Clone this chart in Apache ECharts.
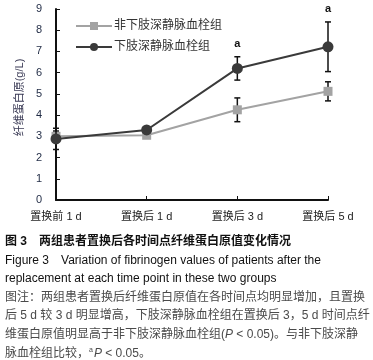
<!DOCTYPE html>
<html><head><meta charset="utf-8">
<script src="https://cdn.jsdelivr.net/npm/echarts@6/dist/echarts.min.js"></script>
<style>html,body{margin:0;padding:0;background:#fff}#c{width:373px;height:360px}</style>
</head><body><div id="c"></div>
<script>
const categories = ['置换前 1 d', '置换后 1 d', '置换后 3 d', '置换后 5 d'];
const nonDvtName = '非下肢深静脉血栓组';
const dvtName = '下肢深静脉血栓组';
const nonDvt = [3.0, 3.05, 4.25, 5.12];
const nonDvtSd = [0.25, 0.1, 0.56, 0.45];
const dvt = [2.88, 3.3, 6.2, 7.22];
const dvtSd = [0.5, 0.1, 0.55, 1.17];
const dvtMark = ['', '', 'a', 'a'];
const yTicks = [0, 1, 2, 3, 4, 5, 6, 7, 8, 9];

const F = '"Liberation Sans","Noto Sans CJK SC",sans-serif';
const chart = echarts.init(document.getElementById('c'));

function errSeries(vals, sds, marks, z) {
  return {
    type: 'custom', z: z, silent: true,
    data: vals.map((v, i) => [i, v, sds[i], marks ? marks[i] : '']),
    renderItem: function (params, api) {
      const x = api.value(0), v = api.value(1), s = api.value(2);
      const top = api.coord([x, v + s]);
      const bot = api.coord([x, v - s]);
      const w = 3;
      const ch = [
        {type: 'line', shape: {x1: top[0], y1: top[1], x2: bot[0], y2: bot[1]}, style: {stroke: '#111', lineWidth: 1.5}},
        {type: 'line', shape: {x1: top[0] - w, y1: top[1], x2: top[0] + w, y2: top[1]}, style: {stroke: '#111', lineWidth: 1.5}},
        {type: 'line', shape: {x1: bot[0] - w, y1: bot[1], x2: bot[0] + w, y2: bot[1]}, style: {stroke: '#111', lineWidth: 1.5}}
      ];
      const m = api.value(3);
      if (m) ch.push({type: 'text', style: {text: m, x: top[0], y: top[1] - 7, align: 'center', verticalAlign: 'bottom', font: 'bold 11px ' + F, fill: '#111'}});
      return {type: 'group', children: ch};
    }
  };
}

const capY = 243, lh = 18.5;
const noteFill = '#4a4a4a';
const lines = [
  {text: '图 3　两组患者置换后各时间点纤维蛋白原值变化情况', fill: '#111', bold: true},
  {text: 'Figure 3　Variation of fibrinogen values of patients after the', fill: '#111'},
  {text: 'replacement at each time point in these two groups', fill: '#111'},
  {text: '图注：两组患者置换后纤维蛋白原值在各时间点均明显增加，且置换', fill: noteFill},
  {text: '后 5 d 较 3 d 明显增高，下肢深静脉血栓组在置换后 3，5 d 时间点纤', fill: noteFill},
  {text: '维蛋白原值明显高于非下肢深静脉血栓组({i|P} < 0.05)。与非下肢深静', fill: noteFill},
  {text: '脉血栓组比较，{s|a}{i|P} < 0.05。', fill: noteFill}
];
const graphics = lines.map((l, k) => ({
  type: 'text', left: 5, top: capY + k * lh - 7,
  style: {
    text: l.text, fill: l.fill, font: (l.bold ? 'bold ' : '') + '12px ' + F,
    rich: {i: {fontStyle: 'italic', fontSize: 12, fontFamily: F, fill: l.fill},
           s: {fontSize: 7, fontFamily: F, fill: l.fill, verticalAlign: 'top', padding: [0, 1, 6, 0]}}
  }
}));

chart.setOption({
  animation: false,
  backgroundColor: '#fff',
  grid: {left: 56, right: 45, top: 9, bottom: 160, containLabel: false},
  legend: {
    left: 70, top: 15, orient: 'vertical', itemWidth: 36, itemHeight: 10, itemGap: 9,
    textStyle: {fontSize: 12, color: '#333', fontFamily: F, padding: [0, 0, 0, -3]},
    data: [nonDvtName, dvtName]
  },
  xAxis: {
    type: 'category', data: categories, boundaryGap: false,
    axisLine: {lineStyle: {color: '#111', width: 2}},
    axisTick: {inside: true, length: 4, lineStyle: {color: '#111'}},
    axisLabel: {fontSize: 11, color: '#222', fontFamily: F, margin: 11}
  },
  yAxis: {
    type: 'value', min: yTicks[0], max: yTicks[yTicks.length - 1], interval: 1,
    name: '纤维蛋白原(g/L)', nameLocation: 'middle', nameGap: 26, nameRotate: 90,
    nameTextStyle: {fontSize: 11, color: '#3a3a55', fontFamily: F, padding: [0, 0, 0, 14]},
    axisLine: {show: true, onZero: false, lineStyle: {color: '#111', width: 2}},
    axisTick: {show: true, inside: true, length: 4, lineStyle: {color: '#111'}},
    axisLabel: {fontSize: 11, color: '#1f2a44', fontFamily: F, margin: 14},
    splitLine: {show: false}
  },
  graphic: graphics,
  series: [
    {name: nonDvtName, type: 'line', data: nonDvt, symbol: 'rect', symbolSize: 9,
     lineStyle: {color: '#a3a3a3', width: 2}, itemStyle: {color: '#a3a3a3'}, z: 3},
    errSeries(nonDvt, nonDvtSd, null, 2),
    {name: dvtName, type: 'line', data: dvt, symbol: 'circle', symbolSize: 11,
     lineStyle: {color: '#3a3a3a', width: 2}, itemStyle: {color: '#3a3a3a'}, z: 5},
    errSeries(dvt, dvtSd, dvtMark, 4)
  ]
});
</script></body></html>
